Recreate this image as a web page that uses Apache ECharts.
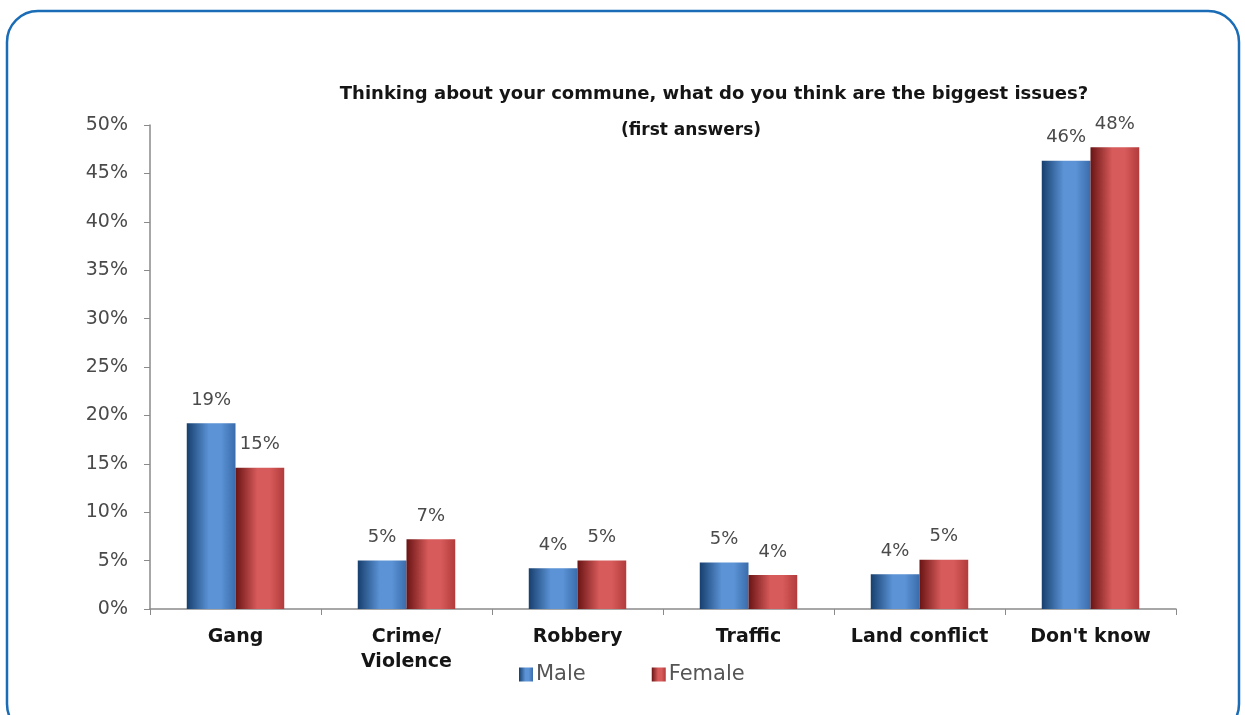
<!DOCTYPE html>
<html>
<head>
<meta charset="utf-8">
<script src="https://cdn.jsdelivr.net/npm/echarts@6/dist/echarts.min.js"></script>
<style>
  html, body { margin: 0; padding: 0; background: #ffffff; }
  #chart { width: 1245px; height: 715px; }
</style>
</head>
<body>
<div id="chart"></div>
<script>
// Survey responses: biggest issues in the commune, by gender (first answers)
const categories = ['Gang', 'Crime/\nViolence', 'Robbery', 'Traffic', 'Land conflict', "Don't know"];
const maleValues = [19.2, 5.0, 4.2, 4.8, 3.6, 46.3];
const femaleValues = [14.6, 7.2, 5.0, 3.5, 5.1, 47.7];
const seriesNames = ['Male', 'Female'];
const yTicks = [0, 5, 10, 15, 20, 25, 30, 35, 40, 45, 50];

const FONT = '"DejaVu Sans", Verdana, sans-serif';

function barGradient(edge, mid, right) {
  return new echarts.graphic.LinearGradient(0, 0, 1, 0, [
    { offset: 0, color: edge },
    { offset: 0.45, color: mid },
    { offset: 0.7, color: mid },
    { offset: 1, color: right }
  ]);
}

const chart = echarts.init(document.getElementById('chart'), null, { renderer: 'canvas' });

const labelStyle = {
  show: true,
  position: 'top',
  distance: 14,
  color: '#4a4a4a',
  fontFamily: FONT,
  fontSize: 18,
  formatter: p => Math.round(p.value) + '%'
};

chart.setOption({
  backgroundColor: '#ffffff',
  animation: false,
  graphic: [{
    type: 'rect',
    shape: { x: 7, y: 11, width: 1232, height: 724, r: 31 },
    style: { fill: 'none', stroke: '#1a6cb6', lineWidth: 2.5 },
    silent: true
  }],
  title: [{
    text: 'Thinking about your commune, what do you think are the biggest issues?',
    left: 709, top: 80, textAlign: 'center',
    textStyle: { fontFamily: FONT, fontWeight: 'bold', fontSize: 18, color: '#151515' }
  }, {
    text: '(first answers)',
    left: 686, top: 117, textAlign: 'center',
    textStyle: { fontFamily: FONT, fontWeight: 'bold', fontSize: 17, color: '#151515' }
  }],
  legend: {
    data: seriesNames,
    left: 514, top: 659,
    itemWidth: 14, itemHeight: 14, itemGap: 66,
    icon: 'rect',
    textStyle: { fontFamily: FONT, fontSize: 21, color: '#555', padding: [0, 0, 0, -2] }
  },
  grid: { left: 150, right: 69, top: 125, bottom: 106, containLabel: false },
  xAxis: {
    type: 'category',
    data: categories,
    axisLine: { lineStyle: { color: '#8a8a8a', width: 1.5 } },
    axisTick: { show: true, length: 6, alignWithLabel: false, lineStyle: { color: '#8a8a8a' } },
    axisLabel: {
      color: '#151515', fontFamily: FONT, fontWeight: 'bold', fontSize: 19,
      margin: 16, lineHeight: 25, interval: 0
    }
  },
  yAxis: {
    type: 'value',
    min: 0, max: 50, interval: 5,
    axisLine: { show: true, lineStyle: { color: '#8a8a8a', width: 1.5 } },
    axisTick: { show: true, length: 6, lineStyle: { color: '#8a8a8a' } },
    splitLine: { show: false },
    axisLabel: {
      color: '#4a4a4a', fontFamily: FONT, fontSize: 19, margin: 22,
      formatter: v => (yTicks.includes(v) ? v + '%' : '')
    }
  },
  series: [{
    name: seriesNames[0],
    type: 'bar',
    data: maleValues,
    barGap: '0%',
    barCategoryGap: '43%',
    itemStyle: {
      color: barGradient('#173f6e', '#5b93d6', '#3a6cab')
    },
    label: labelStyle
  }, {
    name: seriesNames[1],
    type: 'bar',
    data: femaleValues,
    itemStyle: {
      color: barGradient('#6a1414', '#d85b5b', '#b23b3b')
    },
    label: labelStyle
  }]
});
</script>
</body>
</html>
